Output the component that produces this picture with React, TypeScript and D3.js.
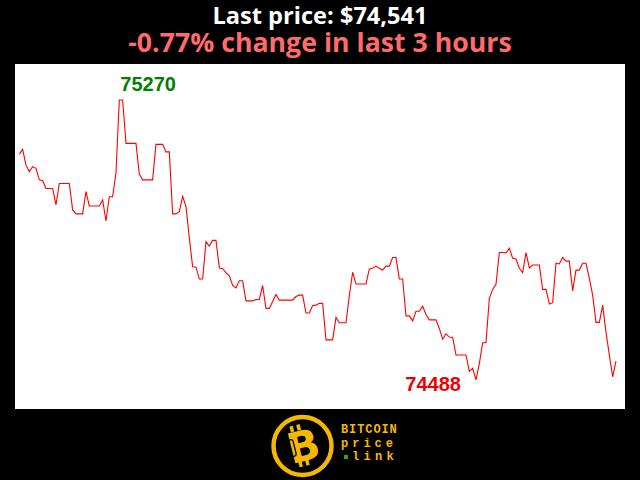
import React from "react";
import * as d3 from "d3";

const prices: number[] = [
  75119, 75132, 75088, 75070, 75084, 75079, 75047, 75045, 75023, 75023,
  75023, 74977, 75037, 75037, 75037, 75037, 74963, 74952, 74952, 74952,
  75014, 74974, 74974, 74974, 74974, 74991, 74932, 75000, 75000, 75066,
  75270, 75270, 75149, 75149, 75149, 75149, 75063, 75047, 75047, 75047,
  75047, 75146, 75146, 75146, 75125, 75125, 74952, 74952, 74958, 75001,
  74972, 74885, 74804, 74803, 74770, 74770, 74874, 74862, 74878, 74878,
  74801, 74799, 74788, 74779, 74752, 74745, 74765, 74765, 74709, 74709,
  74709, 74713, 74713, 74752, 74688, 74688, 74707, 74727, 74711, 74711,
  74711, 74711, 74711, 74721, 74725, 74725, 74675, 74675, 74696, 74697,
  74702, 74702, 74600, 74600, 74600, 74663, 74648, 74648, 74648, 74723,
  74789, 74756, 74756, 74756, 74756, 74798, 74800, 74806, 74800, 74795,
  74806, 74806, 74830, 74830, 74770, 74770, 74667, 74667, 74653, 74680,
  74680, 74694, 74671, 74656, 74656, 74656, 74632, 74602, 74617, 74608,
  74607, 74558, 74558, 74558, 74558, 74512, 74521, 74488, 74534, 74592,
  74592, 74716, 74741, 74755, 74844, 74844, 74843, 74856, 74828, 74826,
  74800, 74788, 74844, 74801, 74809, 74809, 74809, 74741, 74741, 74700,
  74704, 74814, 74812, 74830, 74820, 74820, 74737, 74795, 74795, 74814,
  74814, 74772, 74725, 74649, 74649, 74697, 74621, 74558, 74497, 74541,
];

const titleLine1 = "Last price: $74,541";
const titleLine2 = "-0.77% change in last 3 hours";
const logoWords = ["BITCOIN", "price", "link"];

const W = 640;
const H = 480;
const plot = { left: 15, top: 64, right: 625, bottom: 409 };

export default function App() {
  const n = prices.length;
  const x = d3.scaleLinear().domain([0, n - 1]).range([19.3, 616]);
  const minV = d3.min(prices) as number;
  const maxV = d3.max(prices) as number;
  const y = d3.scaleLinear().domain([minV, maxV]).range([380, 100]);
  const line = d3
    .line<number>()
    .x((_, i) => x(i))
    .y((d) => y(d));
  const iMax = prices.indexOf(maxV);
  const iMin = prices.indexOf(minV);

  const logoCx = 302.5;
  const logoCy = 446;
  const gold = "#f5b800";
  const mono = "'Liberation Mono', 'DejaVu Sans Mono', monospace";

  return (
    <div style={{ position: "fixed", left: 0, top: 0, width: W, height: H }}>
      <svg width={W} height={H} style={{ display: "block" }}>
        <rect x={0} y={0} width={W} height={H} fill="#000" />
        <text
          x={W / 2}
          y={24}
          textAnchor="middle"
          fill="#fff"
          fontFamily="'Open Sans', 'Noto Sans', sans-serif"
          fontWeight="bold"
          fontSize={23.6}
        >
          {titleLine1}
        </text>
        <text
          x={W / 2}
          y={52}
          textAnchor="middle"
          fill="#ff6b6b"
          fontFamily="'Open Sans', 'Noto Sans', sans-serif"
          fontWeight="bold"
          fontSize={26.7}
        >
          {titleLine2}
        </text>
        <rect
          x={plot.left}
          y={plot.top}
          width={plot.right - plot.left}
          height={plot.bottom - plot.top}
          fill="#fff"
        />
        <path d={line(prices) || ""} fill="none" stroke="#ff0000" strokeWidth={1.1} />
        <text
          x={x(iMax) + 1}
          y={y(maxV) - 9}
          fill="#008000"
          fontFamily="'Liberation Sans', Arial, sans-serif"
          fontWeight="bold"
          fontSize={20}
        >
          {String(maxV)}
        </text>
        <text
          x={x(iMin) - 15}
          y={y(minV) + 11}
          textAnchor="end"
          fill="#ee0000"
          fontFamily="'Liberation Sans', Arial, sans-serif"
          fontWeight="bold"
          fontSize={20}
        >
          {String(minV)}
        </text>
        {/* logo */}
        <g>
          <circle cx={logoCx} cy={logoCy} r={29} fill="#000" stroke={gold} strokeWidth={4.5} />
          <g transform={`rotate(-14 ${logoCx} ${logoCy})`}>
            <rect x={logoCx - 8} y={logoCy - 22} width={3.5} height={6} fill={gold} />
            <rect x={logoCx - 1} y={logoCy - 22} width={3.5} height={6} fill={gold} />
            <rect x={logoCx - 8} y={logoCy + 14} width={3.5} height={6} fill={gold} />
            <rect x={logoCx - 1} y={logoCy + 14} width={3.5} height={6} fill={gold} />
            <text
              x={logoCx + 1}
              y={logoCy + 15}
              textAnchor="middle"
              fill={gold}
              fontFamily="'DejaVu Sans', sans-serif"
              fontWeight="bold"
              fontSize={42}
            >
              B
            </text>
            <rect x={logoCx - 13} y={logoCy - 9} width={5} height={17} rx={2.5} fill="none" stroke="#000" strokeWidth={1.3} />
          </g>
          <text x={341} y={433} fill={gold} fontFamily={mono} fontWeight="bold" fontSize={12} letterSpacing={0.9}>
            {logoWords[0]}
          </text>
          <text x={341} y={447} fill={gold} fontFamily={mono} fontWeight="bold" fontSize={12} letterSpacing={4}>
            {logoWords[1]}
          </text>
          <rect x={344} y={455} width={4} height={4} fill="#22aa22" />
          <text x={352} y={460} fill={gold} fontFamily={mono} fontWeight="bold" fontSize={12} letterSpacing={4.3}>
            {logoWords[2]}
          </text>
        </g>
      </svg>
    </div>
  );
}
